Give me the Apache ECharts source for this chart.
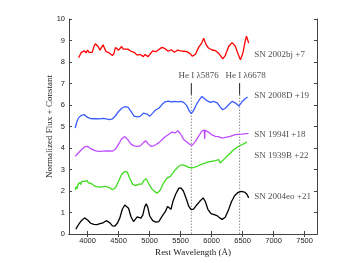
<!DOCTYPE html>
<html>
<head>
<meta charset="utf-8">
<script src="https://cdn.jsdelivr.net/npm/echarts@6/dist/echarts.min.js"></script>
<style>
html,body{margin:0;padding:0;background:#fff;}
#c{width:349px;height:263px;}
</style>
</head>
<body>
<div id="c"></div>
<script>
// ---------- data ----------
const xTicks = [4000, 4500, 5000, 5500, 6000, 6500, 7000, 7500];
const yTicks = [0, 1, 2, 3, 4, 5, 6, 7, 8, 9, 10];

const seriesNames = ['SN 2002bj +7', 'SN 2008D +19', 'SN 1994I +18', 'SN 1939B +22', 'SN 2004eo +21'];
const labelWave = [6689, 6689, 6689, 6689, 6689];
const labelFlux = [8.34, 6.43, 4.60, 3.64, 1.75];

const redWave = [3855,3880,3900,3925,3950,3975,4000,4025,4050,4075,4100,4125,4150,4175,4200,4225,4250,4275,4300,4325,4350,4375,4400,4425,4450,4475,4500,4525,4550,4575,4600,4650,4700,4750,4800,4825,4850,4875,4900,4925,4950,4975,5000,5050,5100,5150,5200,5250,5300,5350,5400,5450,5500,5550,5600,5650,5690,5740,5790,5840,5872,5910,5950,6000,6060,6110,6180,6220,6275,6330,6380,6430,6465,6505,6540,6562,6582,6598];
const redFlux = [8.20,8.15,8.45,8.40,8.52,8.42,8.55,8.45,8.40,8.45,8.70,8.85,8.88,8.70,8.55,8.68,8.80,8.62,8.48,8.45,8.42,8.38,8.30,8.40,8.68,8.76,8.55,8.62,8.72,8.60,8.55,8.60,8.50,8.45,8.32,8.40,8.35,8.28,8.25,8.35,8.38,8.25,8.30,8.52,8.48,8.58,8.68,8.62,8.50,8.57,8.45,8.55,8.52,8.50,8.48,8.40,8.27,8.36,8.68,8.88,9.10,8.82,8.65,8.57,8.53,8.42,8.15,8.30,8.72,8.90,8.75,8.35,8.10,8.42,8.95,9.20,9.02,8.88];

const blueWave = [3800,3825,3850,3875,3900,3925,3950,3975,4000,4025,4050,4100,4150,4200,4250,4300,4350,4400,4450,4500,4550,4600,4650,4700,4750,4800,4850,4900,4930,4960,5000,5050,5100,5150,5200,5250,5300,5350,5400,5450,5500,5550,5600,5640,5673,5710,5760,5810,5845,5870,5925,5980,6030,6090,6140,6180,6220,6275,6330,6380,6440,6490,6540,6580];
const blueFlux = [4.93,5.20,5.39,5.47,5.52,5.53,5.55,5.50,5.42,5.38,5.37,5.36,5.37,5.35,5.38,5.35,5.32,5.35,5.50,5.70,5.85,5.92,5.90,5.70,5.48,5.45,5.47,5.62,5.68,5.58,5.47,5.62,5.78,5.85,6.02,6.15,6.18,6.14,6.17,6.15,6.17,6.12,5.97,5.72,5.60,5.75,6.05,6.28,6.40,6.35,6.20,6.12,6.17,6.10,5.90,5.78,5.85,6.01,6.17,6.10,5.95,6.15,6.29,6.37];

const purpleWave = [3800,3850,3900,3950,4000,4050,4100,4150,4200,4250,4300,4350,4400,4450,4500,4550,4600,4650,4700,4750,4800,4850,4900,4940,4980,5020,5060,5100,5150,5200,5250,5300,5360,5410,5455,5500,5550,5600,5650,5685,5740,5790,5840,5870,5882,5888,5895,5915,5950,6000,6060,6110,6170,6220,6300,6380,6490,6595];
const purpleFlux = [3.61,3.77,3.92,4.05,4.08,3.97,3.90,3.85,3.84,3.85,3.86,3.86,3.85,3.95,4.18,4.43,4.53,4.38,4.18,4.10,4.08,4.10,4.25,4.33,4.18,4.08,4.10,4.15,4.25,4.38,4.52,4.62,4.74,4.70,4.80,4.65,4.40,4.28,4.16,4.12,4.31,4.54,4.78,4.85,4.84,4.42,4.82,4.80,4.74,4.62,4.54,4.53,4.46,4.49,4.54,4.62,4.65,4.68];

const greenWave = [3800,3815,3830,3845,3860,3875,3890,3905,3920,3935,3950,3965,3980,3995,4010,4025,4040,4055,4070,4085,4100,4125,4150,4175,4200,4225,4250,4275,4300,4325,4350,4375,4400,4425,4450,4500,4550,4600,4640,4675,4725,4775,4825,4875,4910,4945,4985,5030,5080,5125,5175,5225,5280,5334,5377,5415,5469,5522,5575,5630,5684,5764,5845,5952,6060,6114,6141,6194,6275,6356,6436,6517,6571];
const greenFlux = [2.06,2.20,2.10,2.30,2.22,2.40,2.30,2.45,2.38,2.53,2.45,2.52,2.40,2.48,2.38,2.42,2.30,2.36,2.28,2.33,2.25,2.30,2.20,2.24,2.18,2.23,2.20,2.24,2.20,2.22,2.16,2.12,2.06,2.10,2.15,2.45,2.78,2.91,2.88,2.62,2.32,2.25,2.32,2.32,2.50,2.57,2.35,2.12,1.97,1.90,2.06,2.37,2.60,2.68,2.84,2.99,3.15,3.22,3.18,3.10,3.07,3.15,3.25,3.35,3.41,3.46,3.30,3.46,3.69,3.92,4.08,4.19,4.28];

const blackWave = [3810,3850,3900,3950,3975,4000,4050,4100,4150,4200,4250,4300,4330,4360,4400,4440,4480,4520,4560,4600,4630,4660,4700,4740,4770,4800,4830,4860,4890,4920,4945,4970,5000,5050,5100,5150,5200,5255,5290,5320,5345,5380,5420,5470,5505,5545,5590,5630,5670,5710,5760,5810,5865,5900,5940,5990,6040,6090,6130,6170,6220,6270,6320,6370,6420,6480,6530,6570,6598];
const blackFlux = [0.23,0.42,0.62,0.75,0.74,0.65,0.50,0.45,0.44,0.48,0.52,0.62,0.62,0.52,0.38,0.37,0.50,0.75,1.15,1.35,1.36,1.20,0.80,0.58,0.62,0.80,0.78,0.74,0.88,1.25,1.41,1.25,0.85,0.62,0.55,0.58,0.82,1.05,1.28,1.20,1.15,1.55,1.85,2.12,2.15,2.00,1.65,1.30,1.13,1.16,1.35,1.52,1.68,1.50,1.15,0.95,0.90,0.85,0.75,0.68,0.78,1.10,1.50,1.78,1.92,1.98,1.95,1.85,1.68];

// He I line markers
const heNames = ['He I \u03bb5876', 'He I \u03bb6678'];
const heLineWave = [5673, 6452];
const heTextWave = [5790, 6548];
const heTextFlux = [7.36, 7.36];
const heTickTop = 7.02;
const heTickBottom = 6.48;
const heDotBottom = 0;

// ---------- chart ----------
const zip = (w, f) => w.map((x, i) => [x, f[i]]);
const spectra = [
  { w: redWave, f: redFlux, c: '#ff0000' },
  { w: blueWave, f: blueFlux, c: '#3a5cff' },
  { w: purpleWave, f: purpleFlux, c: '#c04cff' },
  { w: greenWave, f: greenFlux, c: '#3ddc1c' },
  { w: blackWave, f: blackFlux, c: '#000000' }
];

const serif = 'Liberation Serif';
const sans = 'Liberation Sans';
const axisColor = '#444';

const series = [];
spectra.forEach((s, i) => {
  series.push({
    type: 'line', name: seriesNames[i], data: zip(s.w, s.f),
    showSymbol: false, symbol: 'none',
    lineStyle: { color: s.c, width: 1.3 }, z: 5, silent: true
  });
});
heLineWave.forEach((x, i) => {
  series.push({
    type: 'line', data: [[x, heTickTop], [x, heTickBottom]], symbol: 'none',
    lineStyle: { color: '#222', width: 1 }, z: 3, silent: true
  });
  series.push({
    type: 'line', data: [[x, heTickBottom], [x, heDotBottom]], symbol: 'none',
    lineStyle: { color: '#555', width: 1, type: [1, 2] }, z: 3, silent: true
  });
});
series.push({
  type: 'scatter', symbolSize: 0, silent: true,
  data: labelWave.map((x, i) => ({ value: [x, labelFlux[i]], name: seriesNames[i] })),
  label: { show: true, position: 'right', distance: 0, formatter: p => p.name,
           fontFamily: serif, fontSize: 9, color: '#222' }
});
series.push({
  type: 'scatter', symbolSize: 0, silent: true,
  data: heTextWave.map((x, i) => ({ value: [x, heTextFlux[i]], name: heNames[i] })),
  label: { show: true, position: 'inside', formatter: p => p.name,
           fontFamily: serif, fontSize: 9, color: '#222', align: 'center', verticalAlign: 'middle' }
});

const xBase = {
  type: 'value', min: 3700, max: 7700,
  splitLine: { show: false },
  axisLine: { show: true, lineStyle: { color: axisColor, width: 1 } }
};
const yBase = {
  type: 'value', min: 0, max: 10, interval: 1,
  splitLine: { show: false },
  axisLine: { show: true, lineStyle: { color: axisColor, width: 1 } }
};

const chart = echarts.init(document.getElementById('c'), null, { renderer: 'canvas' });
chart.setOption({
  animation: false,
  backgroundColor: '#fff',
  grid: { left: 69, top: 19, width: 248, height: 215 },
  xAxis: [
    Object.assign({}, xBase, {
      position: 'bottom',
      name: 'Rest Wavelength (\u00c5)', nameLocation: 'middle', nameGap: 14, nameMoveOverlap: false,
      nameTextStyle: { fontFamily: serif, fontSize: 9, color: '#222' },
      axisTick: { show: true, inside: true, length: 3, customValues: xTicks, lineStyle: { color: axisColor } },
      axisLabel: { show: true, customValues: xTicks, formatter: v => String(v),
                   fontFamily: sans, fontSize: 7.5, color: '#222', margin: 3 }
    }),
    Object.assign({}, xBase, {
      position: 'top',
      axisTick: { show: true, inside: true, length: 3, customValues: xTicks, lineStyle: { color: axisColor } },
      axisLabel: { show: false }
    })
  ],
  yAxis: [
    Object.assign({}, yBase, {
      position: 'left',
      name: 'Normalized Flux + Constant', nameLocation: 'middle', nameGap: 15, nameMoveOverlap: false,
      nameTextStyle: { fontFamily: serif, fontSize: 9, color: '#222' },
      axisTick: { show: true, inside: true, length: 3, lineStyle: { color: axisColor } },
      axisLabel: { show: true, fontFamily: sans, fontSize: 7.5, color: '#222', margin: 4,
                   customValues: yTicks, formatter: v => String(v) }
    }),
    Object.assign({}, yBase, {
      position: 'right',
      axisTick: { show: true, inside: true, length: 3, lineStyle: { color: axisColor } },
      axisLabel: { show: false }
    })
  ],
  series: series
});
</script>
</body>
</html>
